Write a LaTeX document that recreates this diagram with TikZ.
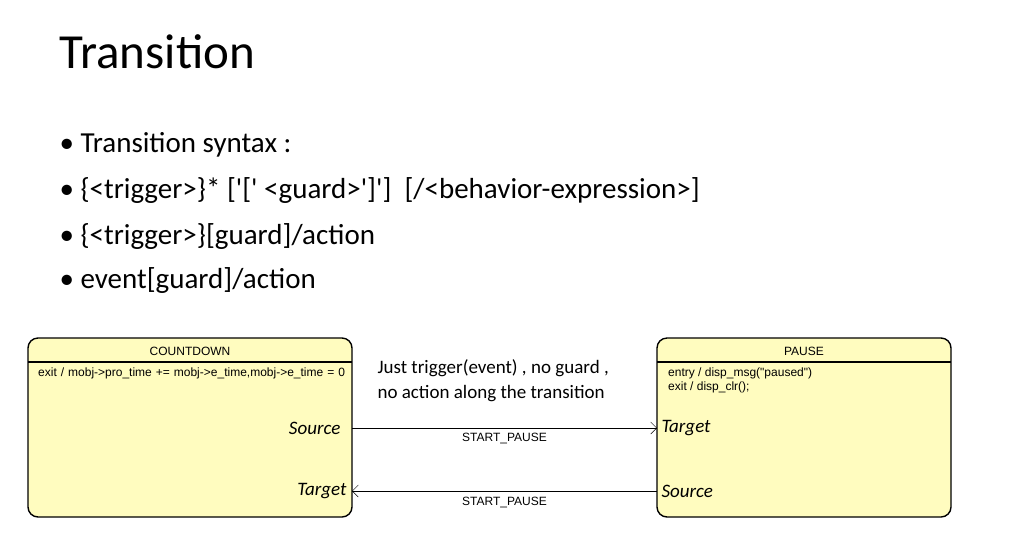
\documentclass[tikz,border=0pt]{standalone}
\usepackage{fontspec}
\setmainfont{Carlito}
\newfontfamily\umlfont{Liberation Sans}
\usetikzlibrary{positioning,arrows.meta}
\tikzset{
  state/.style={draw, line width=1.4pt, rounded corners=10pt, fill=yellow!25},
  bullet/.style={anchor=west, font=\fontsize{29}{34}\selectfont},
  port/.style={font=\fontsize{19}{22}\selectfont\itshape},
  uml/.style={font=\umlfont\fontsize{12}{14}\selectfont},
  trans/.style={-{Straight Barb[length=6pt,width=12pt]}}
}
\newcommand{\sq}{\textquotesingle}
\begin{document}
\begin{tikzpicture}[x=1pt,y=-1pt]
        \useasboundingbox (0,0) rectangle (1024,542);
        % slide text
        \node[anchor=west, font=\fontsize{49}{54}\selectfont] (title) at (56,52) {Transition};
        \node[bullet] (b1) at (56,145) {\textbullet\ Transition syntax :};
        \node[bullet] (b2) at (56,191) {\textbullet\ \{<trigger>\}* [\sq[\sq\ <guard>\sq]\sq] \ [/<behavior-expression>]};
        \node[bullet] (b3) at (56,237) {\textbullet\ \{<trigger>\}[guard]/action};
        \node[bullet] (b4) at (56,281) {\textbullet\ event[guard]/action};

        % states
        \draw[state] (28,338) rectangle (352,517);
        \draw[line width=1.2pt] (28,362) -- (352,362);
        \node[uml] (cd) at (190,351) {COUNTDOWN};
        \node[uml, anchor=north west, text width=318pt, inner sep=2pt] (cdexit) at (36,366)
          {exit / mobj->pro\_time += mobj->e\_time,mobj->e\_time = 0};
        \node[port, anchor=east] (cdsrc) at (344,428) {Source};
        \node[port, anchor=east] (cdtgt) at (350,491) {Target};

        \draw[state] (657,338) rectangle (951,517);
        \draw[line width=1.2pt] (657,362) -- (951,362);
        \node[uml] (ps) at (804,351) {PAUSE};
        \node[uml, anchor=north west, align=left, inner sep=2pt] (psact) at (666,366)
          {entry / disp\_msg("paused")\\exit / disp\_clr();};
        \node[port, anchor=west] (pstgt) at (658,428) {Target};
        \node[port, anchor=west] (pssrc) at (658,491) {Source};

        % transitions
        \coordinate (s1) at (352,428);
        \coordinate (t1) at (657,428);
        \coordinate (s2) at (657,491);
        \coordinate (t2) at (352,491);
        \draw[trans] (s1) -- node[uml, below=2pt] {START\_PAUSE} (t1);
        \draw[trans] (s2) -- node[uml, below=3pt] {START\_PAUSE} (t2);

        \node[anchor=west, align=left, font=\fontsize{19}{25}\selectfont] (note) at (374,381)
          {Just trigger(event) , no guard ,\\no action along the transition};
\end{tikzpicture}
\end{document}
